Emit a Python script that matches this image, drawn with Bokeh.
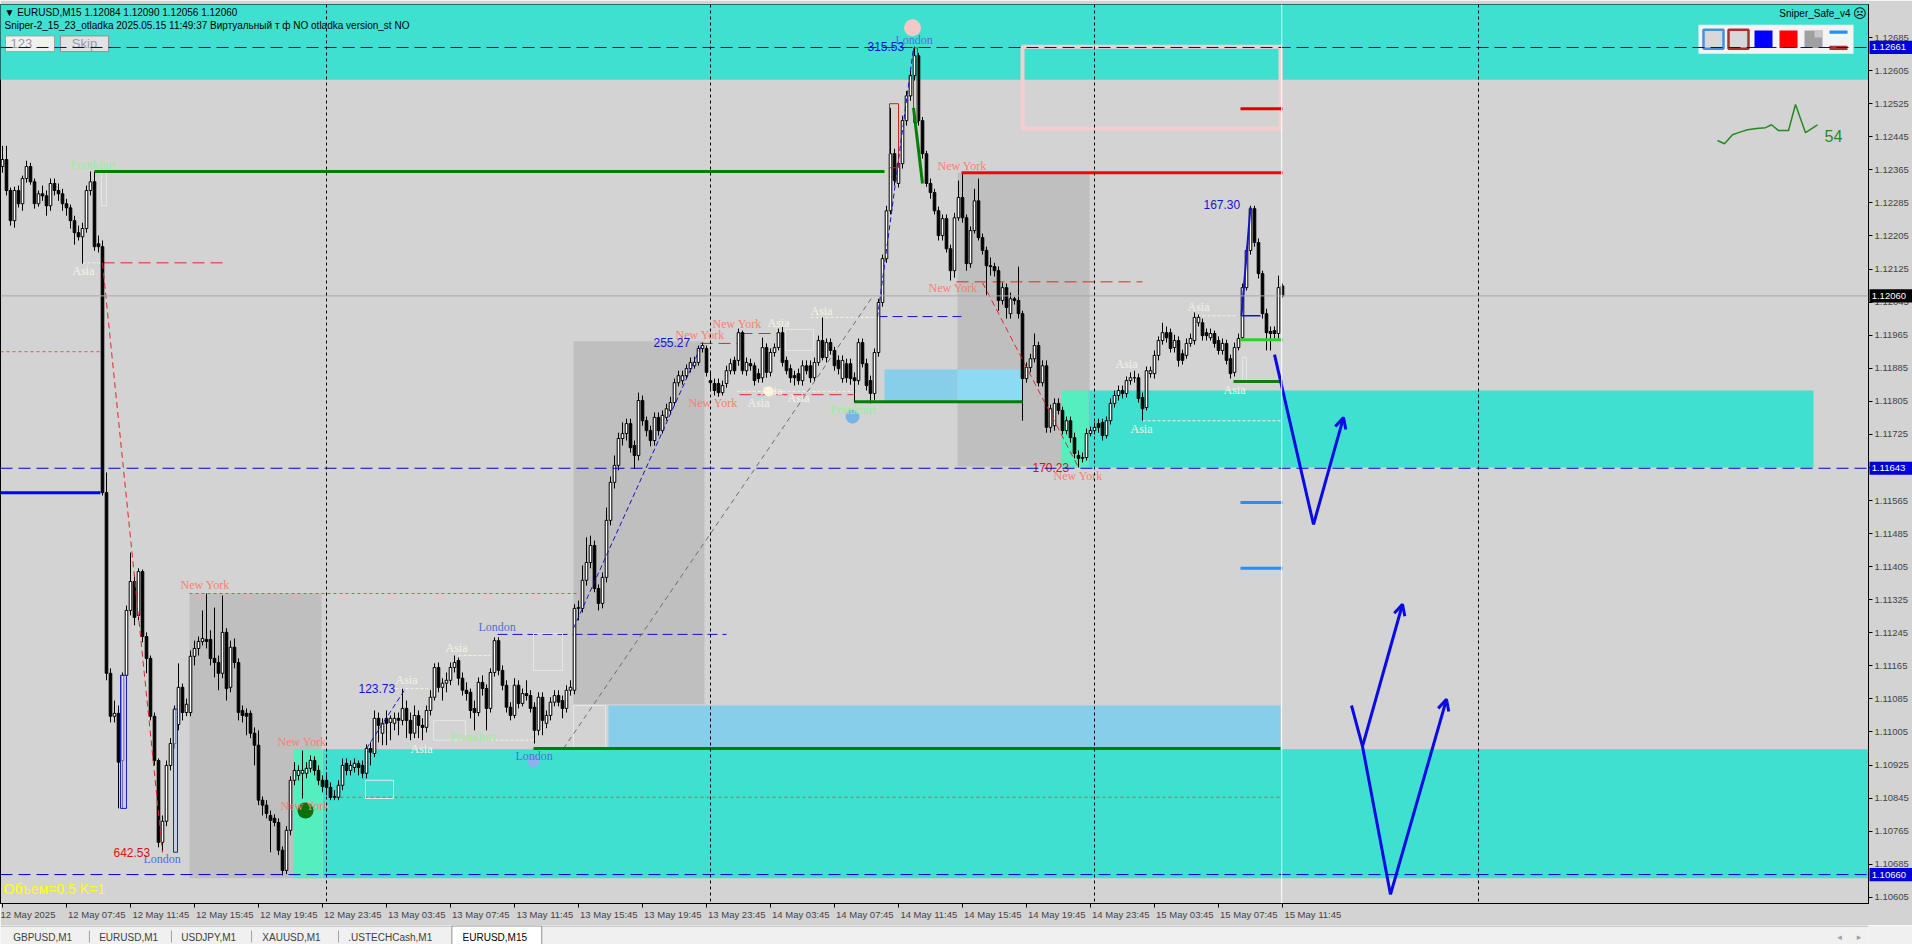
import numpy as np
from bokeh.plotting import figure
from bokeh.models import (ColumnDataSource, Range1d, FixedTicker, NumeralTickFormatter,
                          LinearAxis, Span, Arrow, OpenHead)
from bokeh.layouts import column
from bokeh.embed import file_html
from bokeh.resources import INLINE
from bokeh.core.properties import value

# ---------------- EURUSD M15 candles, bar 0 = 12 May 2025 03:45 ----------------
# prices in points (0.00001) above 1.10000
BASE = 1.10000
PT = 0.00001
open_pts = [
2373,2390,2315,2242,2315,2283,2344,2373,2336,2283,
2307,2302,2278,2332,2315,2307,2283,2273,2242,2213,
2203,2223,2315,2336,2186,2179,1584,1147,1043,1050,
936,1142,1299,1369,1287,1393,1236,1183,1043,936,
738,789,924,977,1023,1113,1052,1052,1188,1207,
1224,1229,1229,1183,1173,1147,1246,1113,1210,1173,
1057,1050,1050,1002,973,840,828,803,796,786,
719,670,767,888,900,905,905,917,936,912,
888,888,871,849,847,876,929,912,919,929,
924,905,965,953,1038,1002,1038,1028,1026,1038,
1033,1062,1033,1002,1045,1021,1016,1057,1089,1161,
1113,1123,1130,1161,1178,1135,1106,1101,1062,1052,
1125,1110,1062,1149,1226,1154,1118,1065,1045,1118,
1074,1098,1093,1065,1009,1089,1026,1045,1077,1093,
1081,1062,1106,1106,1304,1304,1372,1415,1456,1352,
1316,1379,1517,1609,1650,1715,1727,1751,1698,1674,
1807,1758,1734,1710,1766,1734,1766,1783,1802,1850,
1855,1867,1884,1891,1899,1933,1933,1855,1848,1848,
1826,1848,1879,1904,1904,1971,1879,1896,1891,1872,
1862,1935,1875,1923,1935,1971,1904,1884,1867,1872,
1855,1891,1891,1862,1899,1952,1911,1947,1928,1904,
1860,1896,1896,1862,1855,1947,1896,1855,1824,1923,
2044,2150,2266,2404,2332,2380,2484,2544,2593,2641,
2484,2404,2332,2310,2266,2206,2247,2174,2121,2249,
2298,2249,2138,2218,2290,2201,2170,2133,2131,2121,
2049,2080,2017,2053,2049,2017,1860,1887,1908,1940,
1850,1891,1742,1746,1800,1783,1734,1758,1717,1674,
1667,1669,1727,1734,1751,1754,1722,1758,1800,1819,
1831,1824,1855,1862,1862,1814,1790,1872,1872,1916,
1952,1971,1971,1935,1952,1920,1916,1945,1952,1995,
1995,1971,1959,1969,1952,1928,1945,1908,1875,1935,
1959,2080,2170,2271,2189,2114,2017,1974,1976,1969,
2084]
high_pts = [
2423,2423,2322,2324,2327,2351,2387,2382,2344,2315,
2327,2315,2344,2344,2332,2319,2295,2281,2254,2230,
2237,2327,2361,2361,2206,2194,1633,1159,1081,1069,
1149,1311,1439,1384,1401,1398,1246,1190,1052,941,
803,936,990,1069,1171,1122,1086,1202,1226,1236,
1299,1340,1251,1306,1190,1335,1256,1226,1231,1183,
1069,1062,1057,1016,1009,849,840,815,806,796,
728,777,898,932,924,960,932,948,946,924,
900,907,883,864,888,941,941,936,941,936,
936,975,980,1057,1052,1038,1057,1045,1052,1052,
1110,1081,1052,1069,1057,1038,1069,1106,1171,1173,
1135,1149,1173,1190,1185,1149,1125,1110,1081,1137,
1142,1120,1159,1234,1234,1166,1130,1077,1135,1130,
1110,1130,1106,1077,1101,1101,1057,1089,1106,1106,
1093,1118,1130,1314,1323,1408,1476,1480,1468,1362,
1391,1548,1623,1674,1729,1754,1763,1763,1710,1826,
1819,1768,1746,1778,1778,1783,1799,1816,1860,1879,
1879,1894,1911,1913,1940,1947,1940,1875,1860,1860,
1855,1891,1908,1913,1981,1976,1911,1908,1899,1884,
1959,1945,1933,1945,1981,1988,1913,1894,1879,1884,
1904,1904,1904,1911,1964,2008,1957,1957,1937,1916,
1916,1908,1908,1875,1957,1957,1908,1867,1933,2053,
2160,2278,2515,2416,2392,2496,2556,2605,2663,2648,
2493,2411,2344,2319,2276,2257,2257,2184,2261,2339,
2358,2257,2228,2319,2344,2211,2179,2153,2140,2131,
2092,2090,2068,2058,2131,2024,1899,1920,1969,1949,
1904,1904,1797,1812,1812,1792,1768,1768,1729,1686,
1681,1739,1744,1754,1763,1763,1768,1812,1831,1843,
1843,1865,1875,1879,1872,1826,1889,1889,1928,1962,
1995,1986,1981,1966,1962,1930,1957,1969,2020,2015,
2005,1981,1981,1976,1962,1957,1954,1918,1947,1969,
2090,2179,2278,2278,2199,2121,2029,1986,1986,2109,
2090]
low_pts = [
2358,2303,2230,2225,2274,2266,2334,2329,2271,2276,
2290,2254,2266,2303,2290,2266,2254,2223,2184,2194,
2138,2213,2303,2169,2165,1577,1130,1028,1028,820,
820,1130,1287,1263,1275,1222,1147,1033,924,726,
714,777,912,965,1009,1033,1043,1043,1166,1190,
1214,1207,1166,1137,1106,1135,1081,1101,1159,1033,
1028,997,990,924,828,803,796,714,777,707,
658,661,755,876,888,844,893,907,900,876,
859,852,840,840,840,864,900,900,907,900,
893,893,924,944,980,973,973,985,1009,997,
1021,990,985,990,990,985,1004,1045,1081,1101,
1081,1101,1118,1149,1118,1093,1081,1038,1009,1043,
1093,1009,1052,1139,1142,1106,1052,1033,1038,1062,
1067,1081,1052,977,997,997,1014,1033,1067,1067,
1038,1052,1093,1096,1275,1294,1359,1401,1343,1299,
1304,1367,1505,1594,1638,1698,1710,1681,1642,1662,
1746,1720,1696,1698,1722,1727,1758,1773,1795,1841,
1845,1860,1875,1884,1891,1923,1865,1831,1819,1816,
1819,1838,1870,1870,1891,1870,1867,1879,1843,1850,
1850,1862,1865,1913,1928,1889,1870,1850,1843,1845,
1843,1870,1850,1855,1891,1904,1899,1918,1879,1870,
1850,1850,1845,1802,1845,1887,1831,1800,1807,1913,
2034,2140,2257,2327,2322,2368,2472,2532,2581,2472,
2392,2324,2295,2257,2194,2194,2165,2097,2104,2242,
2237,2121,2128,2211,2194,2160,2061,2109,2107,2024,
2039,2005,2005,2039,2005,1758,1850,1875,1899,1841,
1841,1729,1729,1734,1773,1725,1725,1705,1667,1645,
1657,1662,1720,1725,1729,1710,1715,1749,1790,1807,
1812,1814,1845,1850,1802,1758,1783,1862,1860,1904,
1942,1947,1923,1923,1889,1894,1908,1937,1942,1986,
1952,1952,1952,1935,1918,1918,1894,1860,1865,1928,
1952,2073,2160,2179,2102,2005,1928,1928,1957,1957,
2056]
close_pts = [
2390,2315,2242,2315,2283,2344,2373,2336,2283,2307,
2302,2278,2332,2315,2307,2283,2273,2242,2213,2203,
2223,2315,2336,2179,2179,1584,1147,1043,1050,932,
1142,1299,1369,1282,1393,1236,1183,1043,936,738,
789,924,977,1060,1113,1052,1072,1188,1207,1224,
1231,1224,1183,1173,1147,1246,1110,1210,1173,1052,
1045,1043,1002,973,840,828,808,791,786,719,
670,767,888,912,912,912,917,936,912,888,
873,871,847,847,876,924,912,924,929,919,
905,965,956,1038,1021,1026,1026,1038,1038,1033,
1062,1033,1002,1045,1021,1016,1057,1089,1161,1113,
1123,1130,1161,1173,1135,1106,1098,1057,1052,1125,
1110,1062,1149,1226,1154,1118,1065,1045,1118,1074,
1098,1093,1062,1009,1089,1033,1045,1077,1093,1077,
1062,1106,1113,1304,1306,1372,1415,1456,1352,1316,
1379,1517,1609,1650,1715,1727,1751,1693,1674,1807,
1758,1734,1710,1766,1734,1771,1787,1802,1850,1867,
1867,1884,1899,1899,1933,1940,1875,1850,1831,1826,
1843,1879,1896,1879,1971,1879,1899,1891,1855,1860,
1935,1875,1923,1935,1971,1899,1879,1862,1862,1855,
1891,1879,1862,1899,1952,1911,1947,1928,1891,1884,
1904,1862,1860,1855,1947,1896,1843,1824,1923,2044,
2150,2266,2404,2339,2380,2484,2544,2593,2641,2484,
2404,2332,2310,2266,2206,2247,2174,2121,2249,2298,
2249,2138,2218,2290,2201,2170,2133,2131,2121,2049,
2080,2032,2053,2049,2017,1860,1887,1908,1940,1850,
1891,1742,1787,1800,1783,1734,1758,1717,1679,1667,
1669,1727,1734,1742,1742,1722,1758,1800,1819,1831,
1824,1855,1862,1862,1812,1787,1879,1879,1916,1952,
1971,1959,1933,1952,1904,1904,1945,1957,2008,2008,
1964,1964,1969,1945,1928,1945,1904,1872,1935,1957,
2080,2170,2271,2189,2114,2017,1971,1969,1969,2080,
2060]

time_label_bars = [0, 16, 32, 48, 64, 80, 96, 112, 128, 144, 160, 176, 192, 208,
                   224, 240, 256, 272, 288, 304, 320]
time_labels = ["12 May 2025", "12 May 07:45", "12 May 11:45", "12 May 15:45", "12 May 19:45",
               "12 May 23:45", "13 May 03:45", "13 May 07:45", "13 May 11:45", "13 May 15:45",
               "13 May 19:45", "13 May 23:45", "14 May 03:45", "14 May 07:45", "14 May 11:45",
               "14 May 15:45", "14 May 19:45", "14 May 23:45", "15 May 03:45", "15 May 07:45",
               "15 May 11:45"]
price_ticks = [1.10605, 1.10685, 1.10765, 1.10845, 1.10925, 1.11005, 1.11085, 1.11165, 1.11245,
               1.11325, 1.11405, 1.11485, 1.11565, 1.11645, 1.11725, 1.11805, 1.11885, 1.11965,
               1.12045, 1.12125, 1.12205, 1.12285, 1.12365, 1.12445, 1.12525, 1.12605, 1.12685]
price_marks = ["1.12661", "1.12060", "1.11643", "1.10660"]
price_mark_values = [1.12661, 1.12060, 1.11643, 1.10660]
price_mark_colors = ["#0000DD", "#000000", "#0000DD", "#0000DD"]
blue_levels = [1.12661, 1.11643, 1.10660]
bid_level = 1.12060
day_breaks = [81, 177, 273, 369]
current_bar = 319.8

# ---- zones (bar from, bar to, price low, price high) ----
gray_left = [46.75, 142.75, 238.75]
gray_right = [79.75, 175.5, 271.75]
gray_low = [1.10651, 1.11072, 1.11647]
gray_high = [1.11340, 1.11950, 1.12358]

cyan_left = [-1, 80, 271.5]
cyan_right = [467, 467, 452.75]
cyan_low = [1.12583, 1.10651, 1.11645]
cyan_high = [1.12800, 1.10963, 1.11831]

mint_left = [72.75, 264.75]
mint_right = [80, 271.5]
mint_low = [1.10651, 1.11645]
mint_high = [1.10963, 1.11831]

sky_left = [220.5, 238.75, 151.5]
sky_right = [238.75, 255, 319.5]
sky_low = [1.11802, 1.11802, 1.10965]
sky_high = [1.11882, 1.11882, 1.11069]
sky_colors = ["#87CEEB", "#8DDAF5", "#87CEEB"]

# ---- session labels ----
sess_text = ["Frankfurt", "Frankfurt", "Frankfurt",
             "Asia", "Asia", "Asia", "Asia", "Asia", "Asia", "Asia", "Asia", "Asia", "Asia", "Asia", "Asia", "Asia",
             "New York", "New York", "New York", "New York", "New York", "New York", "New York", "New York", "New York",
             "London", "London", "London", "London"]
sess_bar = [17, 112, 207,
            17.5, 98.25, 102, 110.75, 191.25, 202, 186.25, 196.25, 189.5, 296.25, 278.25, 282, 305.25,
            44.5, 68.75, 69.5, 168.25, 177.5, 171.5, 233.75, 231.5, 262.75,
            35.25, 119, 128.25, 223.25]
sess_price = [1.12377, 1.10992, 1.11785,
              1.12121, 1.11130, 1.10965, 1.11207, 1.11995, 1.12024, 1.11802, 1.11812, 1.11831, 1.12032, 1.11896, 1.11739, 1.11833,
              1.11360, 1.10980, 1.10825, 1.11966, 1.11991, 1.11802, 1.12375, 1.12078, 1.11625,
              1.10697, 1.11258, 1.10946, 1.12680]
sess_color_of = {"Frankfurt": "#98F098", "Asia": "#F4F4E4", "New York": "#F88070", "London": "#4F6FDA"}

swing_text = ["642.53", "123.73", "255.27", "315.53", "170.23", "167.30"]
swing_bar = [27.75, 89, 162.75, 216.25, 257.5, 300.25]
swing_price = [1.10714, 1.11110, 1.11947, 1.12663, 1.11645, 1.12281]
swing_color = ["#E01010", "#1212D8", "#1212D8", "#1212D8", "#E01010", "#1212D8"]

# ---- horizontal segments: (bar from, bar to, price) ----
solid_x0 = [23, 239.75, 132.75, 213, 307.75, 309.5, -0.5, 309.5, 309.5, 309.5, 309.75]
solid_x1 = [220.5, 320, 319.5, 255, 320, 320, 24.5, 320, 320, 320, 314.5]
solid_y = [1.12361, 1.12358, 1.10965, 1.11804, 1.11853, 1.11954, 1.11584, 1.12513, 1.11560, 1.11401, 1.12012]
solid_col = ["#008000", "#FF0000", "#008000", "#008000", "#157A15", "#32CD32", "#0000FF", "#E00000",
             "#1E90FF", "#1E90FF", "#1212D0"]
solid_w = [3, 3, 3, 3, 3, 3, 3, 3, 3, 3, 1.5]

reddash_x0 = [25, 238.5, 174.5, 184.5, 184.25]
reddash_x1 = [56, 285, 183.75, 193.75, 212.75]
reddash_y = [1.12140, 1.12094, 1.11945, 1.11969, 1.11821]
reddot_x0 = [-0.5, 46.75, 81.5]
reddot_x1 = [24.5, 144.25, 319.5]
reddot_y = [1.11925, 1.11340, 1.10847]
bluedash_x0 = [123.75, 218.75]
bluedash_x1 = [181, 239.75]
bluedash_y = [1.11241, 1.12010]
cream_x0 = [20, 98.25, 114, 120.75, 202, 183.75, 298.75, 285, 214.5]
cream_x1 = [25, 107, 122, 132.75, 217, 212.75, 308.75, 320, 218.75]
cream_y = [1.12140, 1.11110, 1.11190, 1.10985, 1.12008, 1.11829, 1.12012, 1.11758, 1.12008]

# ---- sloped lines: (bar0, price0, bar1, price1) ----
blue_trend = [(142.75, 1.11256, 174.75, 1.11940), (91, 1.10965, 100.75, 1.11110),
              (218.75, 1.12008, 227.75, 1.12660)]
red_trend = [(25, 1.12140, 40, 1.10714), (245, 1.12092, 269, 1.11645)]
gray_trend = [(140.25, 1.10965, 217.5, 1.12058)]

# ---- projected path (blue arrows) ----
proj_a_bar = [318, 327.75]
proj_a_price = [1.11918, 1.11507]
proj_b_bar = [337.25, 340, 347]
proj_b_price = [1.11069, 1.10970, 1.10612]
proj_arrows = [(327.75, 1.11507, 335.25, 1.11766), (340, 1.10970, 350, 1.11314),
               (347, 1.10612, 361, 1.11084)]

# ---- markers ----
mark_bar = [227.5, 75.75, 212.5, 132.75, 191.5]
mark_price = [1.12709, 1.10815, 1.11768, 1.10934, 1.11829]
mark_size = [17, 16, 14, 12, 10]
mark_color = ["#F6C8C8", "#0A700A", "#78B4E6", "#8CB0F0", "#FFF5D8"]

# small outlined boxes
gbox = [(90.75, 97.75, 1.10844, 1.10888), (107.75, 115.75, 1.10985, 1.11033),
        (132.75, 140, 1.11154, 1.11243), (142.75, 150.75, 1.10965, 1.11069),
        (195.75, 202.75, 1.11928, 1.11979), (24.75, 26, 1.12278, 1.12361), (310, 311, 1.11850, 1.11911)]
rbox = [(221.75, 224, 1.12370, 1.12525), (227.75, 228.75, 1.12479, 1.12660)]
bbox = [(29.5, 31, 1.10820, 1.11142), (42.75, 43.75, 1.10714, 1.11060)]

spark_bar = [428.75, 430.5, 432.5, 434, 436.25, 438.5, 440.75, 442.25, 444, 446.5, 448.25, 450.75, 453.75]
spark_price = [1.12436, 1.12428, 1.12450, 1.12455, 1.12462, 1.12465, 1.12467, 1.12474, 1.12460,
               1.12460, 1.12523, 1.12455, 1.12474]

# =====================================================================
n = min(len(open_pts), len(high_pts), len(low_pts), len(close_pts))
bars = np.arange(n)
o = BASE + np.array(open_pts[:n]) * PT
h = BASE + np.array(high_pts[:n]) * PT
l = BASE + np.array(low_pts[:n]) * PT
c = BASE + np.array(close_pts[:n]) * PT
up = c >= o

BG = "#D3D3D3"
X_END = 466.5
p = figure(width=1912, height=925, x_range=Range1d(-0.5, X_END), y_range=Range1d(1.10590, 1.12765),
           output_backend="svg", toolbar_location=None, x_axis_location=None, y_axis_location=None,
           min_border_left=0, min_border_right=44, min_border_top=4, min_border_bottom=22,
           background_fill_color=BG, border_fill_color=BG)
p.grid.visible = False
p.outline_line_color = "black"

# zones
p.quad(left=gray_left, right=gray_right, bottom=gray_low, top=gray_high, fill_color="#BFBFBF", line_color=None)
p.quad(left=cyan_left, right=cyan_right, bottom=cyan_low, top=cyan_high, fill_color="#40E0D0", line_color=None)
p.quad(left=mint_left, right=mint_right, bottom=mint_low, top=mint_high, fill_color="#55EEBE", line_color=None)
p.quad(left=sky_left, right=sky_right, bottom=sky_low, top=sky_high, fill_color=sky_colors, line_color=None)
p.quad(left=[255], right=[319.5], bottom=[1.12465], top=[1.12663], fill_color=None,
       line_color="#F6CECE", line_width=4)

# full-width levels and separators
for lv in blue_levels:
    p.add_layout(Span(location=lv, dimension="width", line_color="#0000CD", line_dash="12 6", line_width=1))
p.add_layout(Span(location=bid_level, dimension="width", line_color="#A8A8A8", line_width=1))
for d in day_breaks:
    p.add_layout(Span(location=d, dimension="height", line_color="black", line_dash="3 3", line_width=1))
p.add_layout(Span(location=current_bar, dimension="height", line_color="white", line_width=1))

# dotted / dashed level lines (behind candles)
p.segment(x0=reddot_x0, y0=reddot_y, x1=reddot_x1, y1=reddot_y, line_color="#E05050", line_dash="3 3", line_width=1)
p.segment(x0=reddash_x0, y0=reddash_y, x1=reddash_x1, y1=reddash_y, line_color="#E02828", line_dash="12 6", line_width=1)
p.segment(x0=bluedash_x0, y0=bluedash_y, x1=bluedash_x1, y1=bluedash_y, line_color="#1414C8", line_dash="10 5", line_width=1)
p.segment(x0=cream_x0, y0=cream_y, x1=cream_x1, y1=cream_y, line_color="#F2F2E2", line_dash="3 2", line_width=1)
for (a, b, lo, hi) in gbox:
    p.quad(left=[a], right=[b], bottom=[lo], top=[hi], fill_color=None, line_color="#E6E6E6", line_width=1)

for (x0, y0, x1, y1) in gray_trend:
    p.segment(x0=[x0], y0=[y0], x1=[x1], y1=[y1], line_color="#6E6E6E", line_dash="5 4", line_width=1)

# candles
src = ColumnDataSource(dict(x=bars, h=h, l=l, top=np.maximum(o, c), bot=np.minimum(o, c),
                            fill=np.where(up, "white", "black")))
p.segment(x0="x", y0="h", x1="x", y1="l", source=src, line_color="black", line_width=1)
p.vbar(x="x", width=0.65, top="top", bottom="bot", fill_color="fill", line_color="black",
       line_width=1, source=src)

for (a, b, lo, hi) in bbox:
    p.quad(left=[a], right=[b], bottom=[lo], top=[hi], fill_color="#C4C8F0", fill_alpha=0.6,
           line_color="#2020C8", line_width=1)
for (a, b, lo, hi) in rbox:
    p.quad(left=[a], right=[b], bottom=[lo], top=[hi], fill_color=None, line_color="#D02020", line_width=1)

# solid lines and trend lines
p.segment(x0=solid_x0, y0=solid_y, x1=solid_x1, y1=solid_y, line_color=solid_col, line_width=solid_w)
for (x0, y0, x1, y1) in blue_trend:
    p.segment(x0=[x0], y0=[y0], x1=[x1], y1=[y1], line_color="#1414C8", line_dash="5 3", line_width=1)
for (x0, y0, x1, y1) in red_trend:
    p.segment(x0=[x0], y0=[y0], x1=[x1], y1=[y1], line_color="#E02828", line_dash="6 4", line_width=1)
p.segment(x0=[309.75], y0=[1.12012], x1=[312], y1=[1.12274], line_color="#1414C8", line_width=2)
p.segment(x0=[227.75], y0=[1.12515], x1=[230], y1=[1.12332], line_color="#008000", line_width=3)

# markers
p.scatter(x=mark_bar, y=mark_price, size=mark_size, fill_color=mark_color, line_color=None)

# projection arrows
ARROW = "#0A0AE6"
p.line(x=proj_a_bar, y=proj_a_price, line_color=ARROW, line_width=3)
p.line(x=proj_b_bar, y=proj_b_price, line_color=ARROW, line_width=3)
for (x0, y0, x1, y1) in proj_arrows:
    p.add_layout(Arrow(end=OpenHead(size=11, line_color=ARROW, line_width=3),
                       x_start=x0, y_start=y0, x_end=x1, y_end=y1, line_color=ARROW, line_width=3))

# labels
p.text(x=sess_bar, y=sess_price, text=sess_text, text_color=[sess_color_of[t] for t in sess_text],
       text_font=value("Liberation Serif"), text_font_size="12px", text_baseline="middle", text_align="left")
p.text(x=swing_bar, y=swing_price, text=swing_text, text_color=swing_color,
       text_font=value("Liberation Sans"), text_font_size="12px", text_baseline="middle", text_align="left")

# indicator sparkline
p.line(x=spark_bar, y=spark_price, line_color="#228B22", line_width=1.5)
p.text(x=[455.5], y=[1.12448], text=["54"], text_color="#228B22", text_font=value("Liberation Sans"),
       text_font_size="16px", text_baseline="middle")

# header / UI texts
p.text(x=[0.5, 0.5], y=[1.12745, 1.12714],
       text=["\u25bc EURUSD,M15  1.12084 1.12090 1.12056 1.12060",
             "Sniper-2_15_23_otladka  2025.05.15 11:49:37  Виртуальный т ф NO  otladka   version_st NO"],
       text_color="black", text_font=value("Liberation Sans"), text_font_size="10px", text_baseline="middle")
p.quad(left=[0.75], right=[13], bottom=[1.12651], top=[1.12689], fill_color="#F0F0F0", line_color="#A0A0A0")
p.quad(left=[14.5], right=[26.5], bottom=[1.12651], top=[1.12689], fill_color="#E2E2E2", line_color="#909090")
p.text(x=[2, 20.5], y=[1.12670, 1.12670], text=["123", "Skip"], text_color="#9A9A9A",
       text_align=["left", "center"], text_font=value("Liberation Sans"), text_font_size="13px",
       text_baseline="middle")
p.text(x=[0.25], y=[1.10624], text=["Объем=0.5 K=1"], text_color="#FFFF00",
       text_font=value("Liberation Sans"), text_font_size="14px", text_baseline="middle")
p.text(x=[462], y=[1.12743], text=["Sniper_Safe_v4"], text_color="black", text_align="right",
       text_font=value("Liberation Sans"), text_font_size="10px", text_baseline="middle")
p.text(x=[462.6], y=[1.12743], text=["\u2639"], text_color="black",
       text_font=value("DejaVu Sans"), text_font_size="13px", text_baseline="middle")

# icon panel
p.quad(left=[424], right=[462.75], bottom=[1.12646], top=[1.12716], fill_color="#F4F4F4", line_color=None)
p.quad(left=[425.25, 431.5], right=[430.25, 436.5], bottom=[1.12658, 1.12658], top=[1.12704, 1.12704],
       fill_color="#D8D8D8", line_color=["#4A8FD8", "#A83232"], line_width=2.5)
p.quad(left=[438, 444.25, 450.5, 453], right=[442.5, 448.75, 455, 455],
       bottom=[1.12660, 1.12660, 1.12660, 1.12685], top=[1.12702, 1.12702, 1.12702, 1.12702],
       fill_color=["#0000FF", "#FF0000", "#A0A0A0", "#C8C8C8"], line_color=None)
p.quad(left=[456.75, 456.75], right=[461.25, 461.25], bottom=[1.12694, 1.12655], top=[1.12702, 1.12665],
       fill_color=["#1E90FF", "#B03030"], line_color=None)

# axes
yax = LinearAxis(ticker=FixedTicker(ticks=price_ticks), formatter=NumeralTickFormatter(format="0.00000"))
yax.major_label_text_font = "Liberation Sans"
yax.major_label_text_font_size = "9.5px"
yax.major_tick_out = 4
yax.major_tick_in = 0
yax.minor_tick_out = 0
yax.minor_tick_in = 0
yax.major_label_standoff = 2
yax.axis_line_color = "black"
p.add_layout(yax, "right")

# time labels start at their tick (MT4 style): pad the left half with no-break spaces
PAD = "\u00a0" * 23
xax = LinearAxis(ticker=FixedTicker(ticks=time_label_bars),
                 major_label_overrides={b: (t if b == 0 else PAD + t)
                                        for b, t in zip(time_label_bars, time_labels)})
xax.major_label_text_font = "Liberation Sans"
xax.major_label_text_font_size = "9.5px"
xax.major_tick_out = 4
xax.major_tick_in = 0
xax.minor_tick_out = 0
xax.minor_tick_in = 0
xax.major_label_standoff = 1
xax.axis_line_color = "black"
p.add_layout(xax, "below")

# price tags on the price scale (drawn above everything, outside the frame)
p.quad(left=[X_END + 0.25] * 4, right=[X_END + 11.5] * 4,
       bottom=[v - 0.00016 for v in price_mark_values], top=[v + 0.00016 for v in price_mark_values],
       fill_color=price_mark_colors, line_color=None, level="overlay")
p.text(x=[X_END + 0.8] * 4, y=price_mark_values, text=price_marks, text_color="white",
       text_font=value("Liberation Sans"), text_font_size="9.5px", text_baseline="middle",
       level="overlay")

# ---- tab bar ----
tab_names = ["GBPUSD,M1", "EURUSD,M1", "USDJPY,M1", "XAUUSD,M1", ".USTECHCash,M1", "EURUSD,M15"]
tab_x = [13, 101, 185, 268, 356, 473]
sep_x = [91, 175, 257, 346]
t = figure(width=1912, height=19, x_range=Range1d(0, 1912), y_range=Range1d(0, 19),
           output_backend="svg", toolbar_location=None, x_axis_location=None, y_axis_location=None,
           min_border=0, background_fill_color="#F0F0F0", border_fill_color="#F0F0F0")
t.grid.visible = False
t.outline_line_color = None
t.segment(x0=[0], y0=[18.5], x1=[1912], y1=[18.5], line_color="#A8A8A8", line_width=1)
t.quad(left=[462], right=[554], bottom=[-1], top=[18.5], fill_color="white", line_color="#909090")
t.segment(x0=sep_x, y0=[2] * len(sep_x), x1=sep_x, y1=[14] * len(sep_x), line_color="#A0A0A0", line_width=1)
t.text(x=tab_x, y=[7.5] * len(tab_x), text=tab_names,
       text_color=["#404040"] * 5 + ["#000000"], text_font=value("Liberation Sans"),
       text_font_size="10px", text_baseline="middle")
t.text(x=[1880, 1900], y=[7.5, 7.5], text=["\u25c2", "\u25b8"], text_color="#A0A0A0",
       text_font=value("DejaVu Sans"), text_font_size="9px", text_baseline="middle")

layout = column(p, t, spacing=0)
open("out.html", "w").write(file_html(layout, INLINE))
